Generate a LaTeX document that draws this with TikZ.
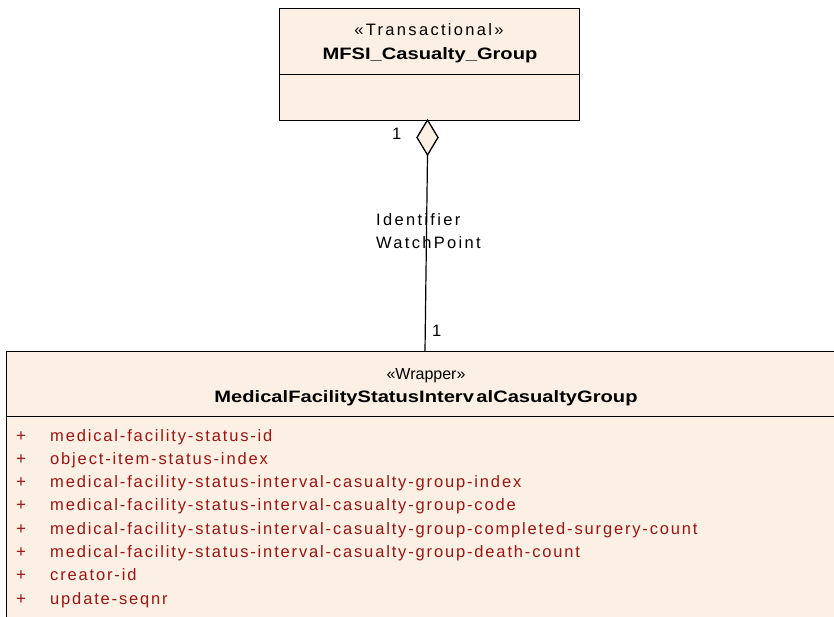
\documentclass[tikz,border=0pt]{standalone}
\usepackage{fontspec}
\setmainfont{Liberation Sans}
\newfontfamily\spaced[LetterSpace=11.2]{Liberation Sans}
\newfontfamily\lblfont[LetterSpace=14]{Liberation Sans}
\newfontfamily\plainfont{Liberation Sans}
\newfontfamily\namefont[FakeStretch=1.22]{Liberation Sans Bold}
\definecolor{classfill}{RGB}{251,240,227}
\definecolor{attrred}{RGB}{155,20,20}
\tikzset{
  classbox/.style={draw=black, line width=1.3pt, fill=classfill, rectangle, inner sep=0pt, anchor=north west},
  divider/.style={draw=black, line width=1pt},
  stereo/.style={inner sep=0pt, anchor=base, font=\lblfont\fontsize{16.5}{18}\selectfont},
  wrapst/.style={inner sep=0pt, anchor=base, font=\plainfont\fontsize{16}{18}\selectfont},
  cname/.style={inner sep=0pt, anchor=base, font=\namefont\fontsize{16.5}{18}\selectfont},
  attr/.style={inner sep=0pt, anchor=base west, text=attrred, font=\spaced\fontsize{16.5}{18}\selectfont},
  plus/.style={inner sep=0pt, anchor=base, text=attrred, font=\plainfont\fontsize{17}{18}\selectfont},
  lbl/.style={inner sep=0pt, anchor=base west, font=\lblfont\fontsize{16.5}{18}\selectfont},
  conn/.style={draw=black, line width=1.2pt},
}
\begin{document}
\begin{tikzpicture}[x=1pt, y=-1pt]
\useasboundingbox (0,0) rectangle (834,617);
\clip (0,0) rectangle (834,617);
\fill[white] (0,0) rectangle (834,617);

% top class
\node[classbox, minimum width=300pt, minimum height=112pt] (top) at (279,8) {};
\draw[divider] (279,75) -- (579,75);
\node[stereo] (topst) at (429,36) {«Transactional»};
\node[cname] (topname) at (430,60) {MFSI\_Casualty\_Group};

% bottom class (extends past the page)
\node[classbox, minimum width=850pt, minimum height=300pt] (bot) at (6,351) {};
\draw[divider] (6,416.7) -- (850,416.7);
\node[wrapst] (botst) at (426,379) {«Wrapper»};
\node[cname] (botname) at (426,402) {MedicalFacilityStatusInterv\hspace{2.5pt}alCasualtyGroup};

\foreach \i/\t in {0/medical-facility-status-id,
                   1/object-item-status-index,
                   2/medical-facility-status-interval-casualty-group-index,
                   3/medical-facility-status-interval-casualty-group-code,
                   4/medical-facility-status-interval-casualty-group-completed-surgery-count,
                   5/medical-facility-status-interval-casualty-group-death-count,
                   6/creator-id,
                   7/update-seqnr} {
  \node[plus] (p\i) at (21,{441+23.33*\i}) {+};
  \node[attr] (a\i) at (50,{441+23.33*\i}) {\t};
}

% aggregation diamond and connector
\draw[line width=1.3pt, fill=classfill] (427.5,120) -- (438,137.5) -- (427.5,155) -- (417,137.5) -- cycle;
\coordinate (dbot) at (427.5,155);
\coordinate (wtop) at (425,351);
\draw[conn] (dbot) -- (wtop);

% labels
\node[lbl] (m1) at (392,140) {1};
\node[lbl] (m2) at (432,336) {1};
\node[lbl] (id) at (376,226) {Identifier};
\node[lbl] (wp) at (376,249) {WatchPoint};
\end{tikzpicture}
\end{document}
